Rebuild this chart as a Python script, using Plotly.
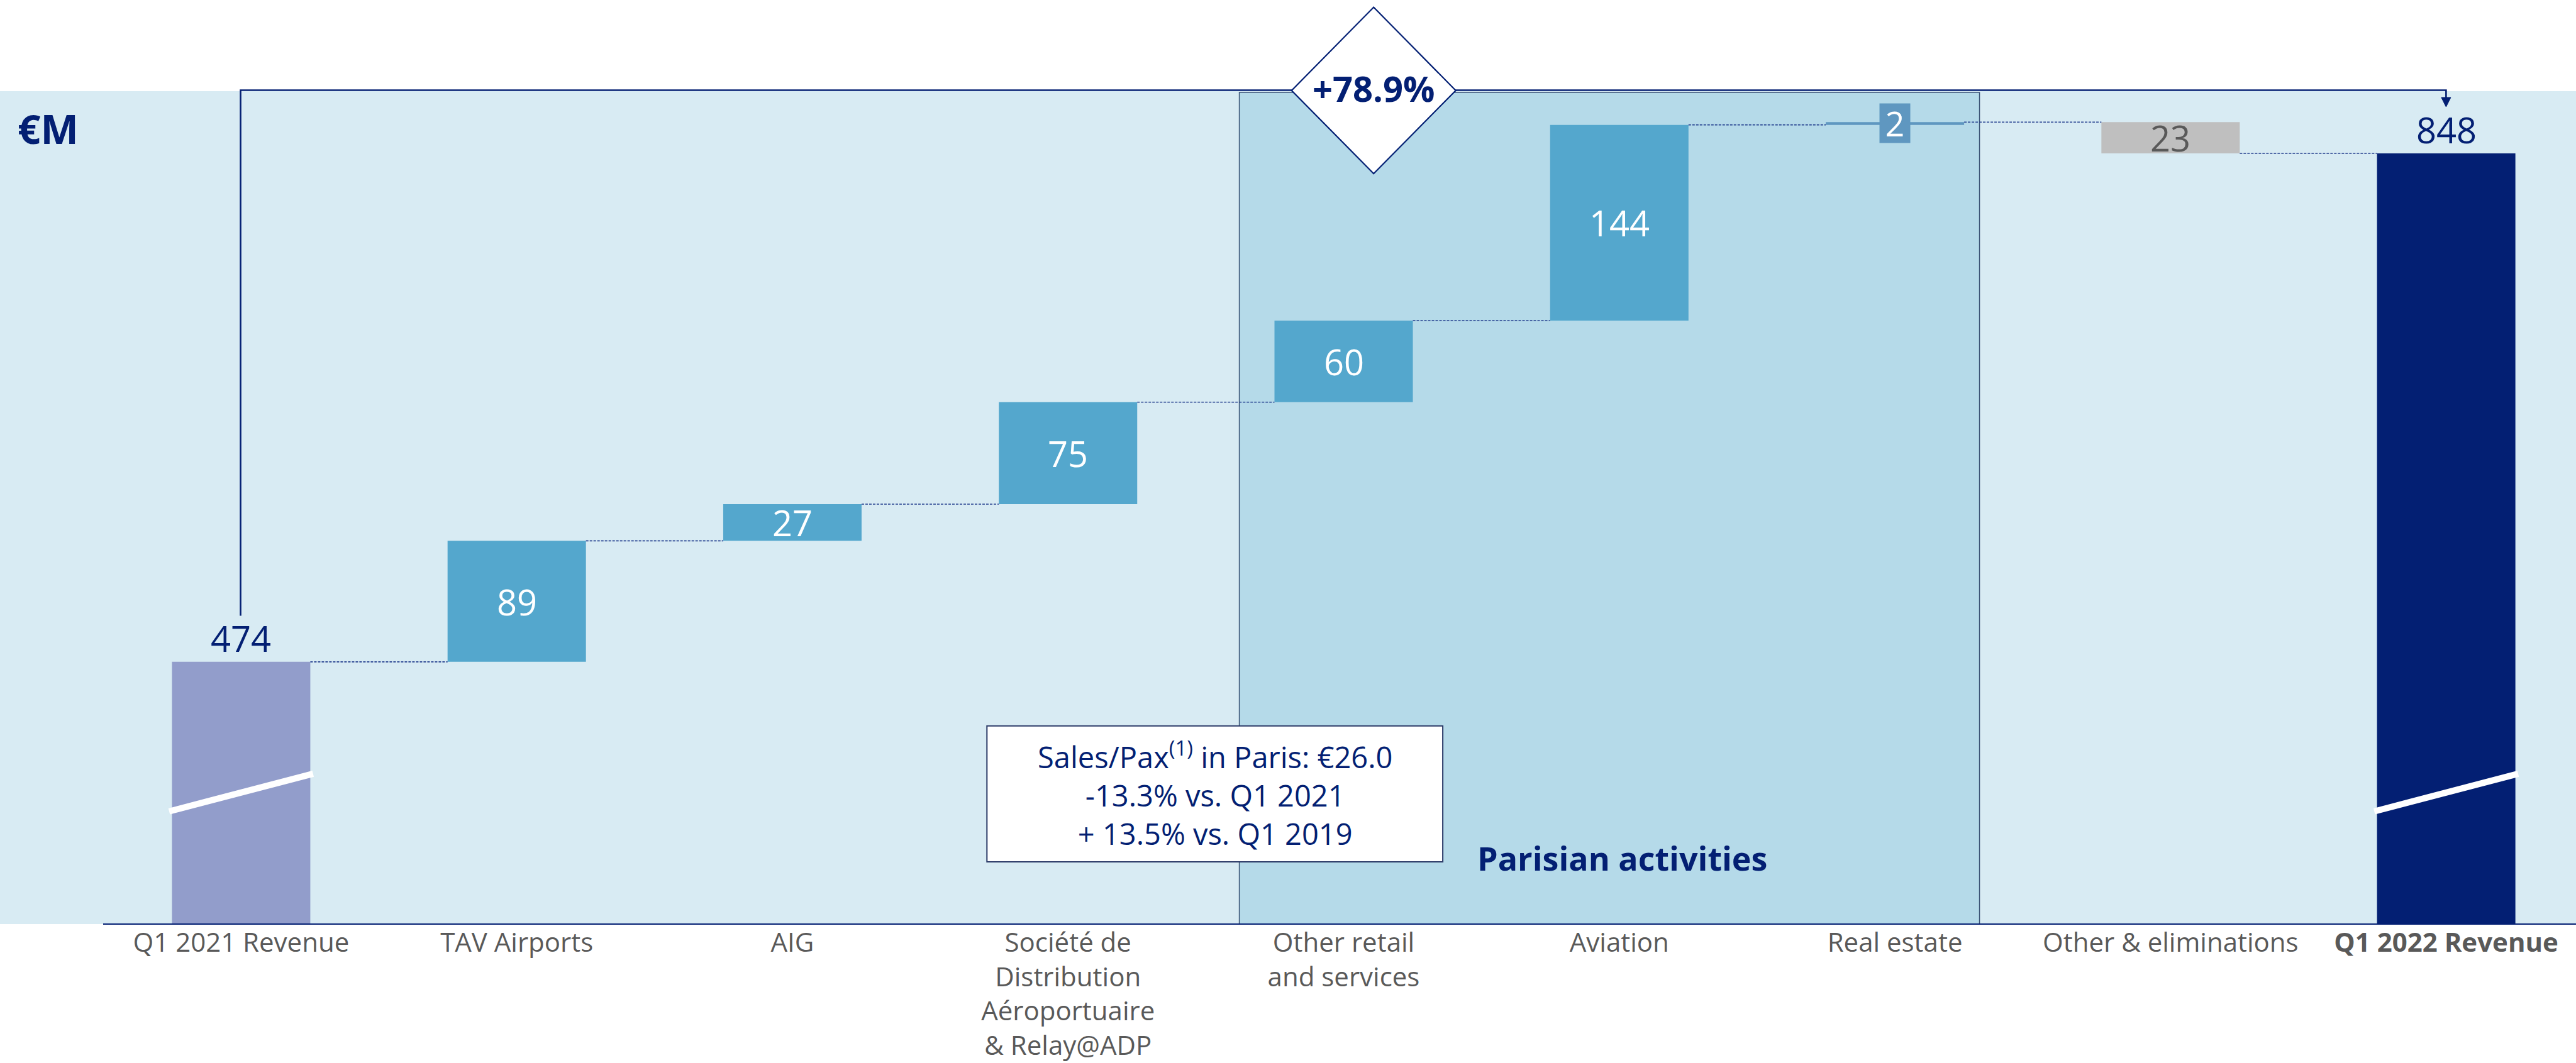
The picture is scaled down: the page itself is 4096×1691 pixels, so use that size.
import plotly.graph_objects as go

# ---------------- data ----------------
categories = ["Q1 2021 Revenue", "TAV Airports", "AIG",
              "Société de<br>Distribution<br>Aéroportuaire<br>& Relay@ADP",
              "Other retail<br>and services", "Aviation", "Real estate",
              "Other & eliminations", "<b>Q1 2022 Revenue</b>"]
values = [474, 89, 27, 75, 60, 144, 2, -23, 848]
measures = ["absolute", "relative", "relative", "relative", "relative",
            "relative", "relative", "relative", "total"]
value_labels = ["474", "89", "27", "75", "60", "144", "2", "23", "848"]
growth_label = "+78.9%"
unit_label = "€M"
segment_label = "Parisian activities"
note_lines = ["Sales/Pax<sup>(1)</sup> in Paris: €26.0",
              "-13.3% vs. Q1 2021",
              "+ 13.5% vs. Q1 2019"]

# ---------------- styles ----------------
NAVY = "#031F73"
GREY_TXT = "#595959"
BG = "#D8EBF3"
PARIS_BG = "#B5DAE9"
bar_colors = ["#929DCB", "#54A7CD", "#54A7CD", "#54A7CD", "#54A7CD",
              "#54A7CD", "#5F97C0", "#BFBFBF", NAVY]
label_colors = [NAVY, "white", "white", "white", "white", "white",
                "white", GREY_TXT, NAVY]
FONT = "Open Sans"

W, H = 4096, 1691
TOP, BOT = 145, 1470          # plot area in px
X_RANGE = [-0.8748, 8.4709]
Y_RANGE = [281.1, 893.8]
BAR_W = 0.502


def px(x):
    return x / W


def py(y):
    return (BOT - y) / (BOT - TOP)


# ---------------- waterfall geometry ----------------
bases, heights, ends = [], [], []
running = 0
for v, m in zip(values, measures):
    if m in ("absolute", "total"):
        bases.append(0)
        heights.append(v)
        running = v
    else:
        bases.append(running)
        heights.append(v)
        running += v
    ends.append(running)

xs = list(range(len(categories)))

fig = go.Figure()
fig.add_trace(go.Bar(x=xs, y=heights, base=bases, width=BAR_W,
                     marker=dict(color=bar_colors, line=dict(width=0)),
                     hoverinfo="skip"))

# connectors
cx, cy = [], []
for i in range(len(xs) - 1):
    cx += [xs[i] + BAR_W / 2, xs[i + 1] - BAR_W / 2, None]
    cy += [ends[i], ends[i], None]
fig.add_trace(go.Scatter(x=cx, y=cy, mode="lines",
                         line=dict(color="#24408F", width=1.6, dash="4px,2px"),
                         hoverinfo="skip"))

shapes = []
# Parisian activities area
shapes.append(dict(type="rect", xref="x", yref="paper", x0=3.6214, x1=6.3069,
                   y0=0, y1=0.9985, fillcolor=PARIS_BG,
                   line=dict(color="#3A5275", width=1.5), layer="below"))
# axis-break slashes on the two totals
for i in (0, len(xs) - 1):
    shapes.append(dict(type="line", xref="x", yref="y",
                       x0=xs[i] - BAR_W / 2 - 0.01, y0=364.0,
                       x1=xs[i] + BAR_W / 2 + 0.01, y1=391.7,
                       line=dict(color="white", width=10), layer="above"))
# baseline
shapes.append(dict(type="line", xref="paper", yref="paper",
                   x0=px(164), x1=1, y0=0, y1=0,
                   line=dict(color=NAVY, width=2.2)))
# bracket with arrow
bx0, bx1, btop = 382.5, 3889.4, 143.5
shapes.append(dict(type="path", xref="paper", yref="paper",
                   path=f"M {px(bx0)} {py(979.5)} L {px(bx0)} {py(btop)} "
                        f"L {px(bx1)} {py(btop)} L {px(bx1)} {py(158)}",
                   line=dict(color=NAVY, width=2.6)))
shapes.append(dict(type="path", xref="paper", yref="paper",
                   path=f"M {px(bx1-7.5)} {py(155)} L {px(bx1+7.5)} {py(155)} "
                        f"L {px(bx1)} {py(170)} Z",
                   fillcolor=NAVY, line=dict(color=NAVY, width=1)))
# diamond
dcx, dcy, dhw, dhh = 2184.2, 143.9, 130.5, 132.3
shapes.append(dict(type="path", xref="paper", yref="paper",
                   path=f"M {px(dcx)} {py(dcy-dhh)} L {px(dcx+dhw)} {py(dcy)} "
                        f"L {px(dcx)} {py(dcy+dhh)} L {px(dcx-dhw)} {py(dcy)} Z",
                   fillcolor="white", line=dict(color=NAVY, width=2.2)))
# note box
shapes.append(dict(type="rect", xref="paper", yref="paper",
                   x0=px(1569.3), x1=px(2294.1), y0=py(1371), y1=py(1154.7),
                   fillcolor="white", line=dict(color="#2B3A67", width=2)))

ann = []
# value labels
for i, (lab, col) in enumerate(zip(value_labels, label_colors)):
    m = measures[i]
    if m in ("absolute", "total"):
        ann.append(dict(x=xs[i], y=ends[i], xref="x", yref="y", text=lab,
                        showarrow=False, yanchor="middle", yshift=38,
                        font=dict(family=FONT, size=56, color=col)))
    elif abs(values[i]) < 5:
        ann.append(dict(x=xs[i], y=bases[i] + heights[i] / 2, xref="x", yref="y",
                        text=lab, showarrow=False, yanchor="middle",
                        width=44, height=58, bgcolor=bar_colors[i], borderpad=2,
                        font=dict(family=FONT, size=54, color=col)))
    else:
        ann.append(dict(x=xs[i], y=bases[i] + heights[i] / 2, xref="x", yref="y",
                        text=lab, showarrow=False, yanchor="middle",
                        font=dict(family=FONT, size=56, color=col)))

ann.append(dict(x=px(26), y=py(204.5), xref="paper", yref="paper", text=f"<b>{unit_label}</b>",
                showarrow=False, xanchor="left", yanchor="middle",
                font=dict(family=FONT, size=64, color=NAVY)))
ann.append(dict(x=px(dcx), y=py(140), xref="paper", yref="paper", text=f"<b>{growth_label}</b>",
                showarrow=False, xanchor="center", yanchor="middle",
                font=dict(family=FONT, size=56, color=NAVY)))
ann.append(dict(x=px(2347), y=py(1364), xref="paper", yref="paper", text=f"<b>{segment_label}</b>",
                showarrow=False, xanchor="left", yanchor="middle",
                font=dict(family=FONT, size=52, color=NAVY)))
ann.append(dict(x=px(1931.7), y=py(1262), xref="paper", yref="paper",
                text="<br>".join(note_lines), showarrow=False,
                xanchor="center", yanchor="middle", align="center",
                font=dict(family=FONT, size=47, color=NAVY)))

fig.update_layout(
    width=W, height=H,
    margin=dict(l=0, r=0, t=TOP, b=H - BOT, pad=0, autoexpand=False),
    paper_bgcolor="white", plot_bgcolor=BG,
    showlegend=False, hovermode=False,
    xaxis=dict(range=X_RANGE, tickmode="array", tickvals=xs, ticktext=categories,
               showgrid=False, zeroline=False, showline=False, ticks="",
               ticklabelstandoff=1, automargin=False,
               tickfont=dict(family=FONT, size=42, color=GREY_TXT), fixedrange=True),
    yaxis=dict(range=Y_RANGE, visible=False, showgrid=False, zeroline=False,
               fixedrange=True, automargin=False),
    shapes=shapes, annotations=ann,
)

fig.write_html("out.html")
